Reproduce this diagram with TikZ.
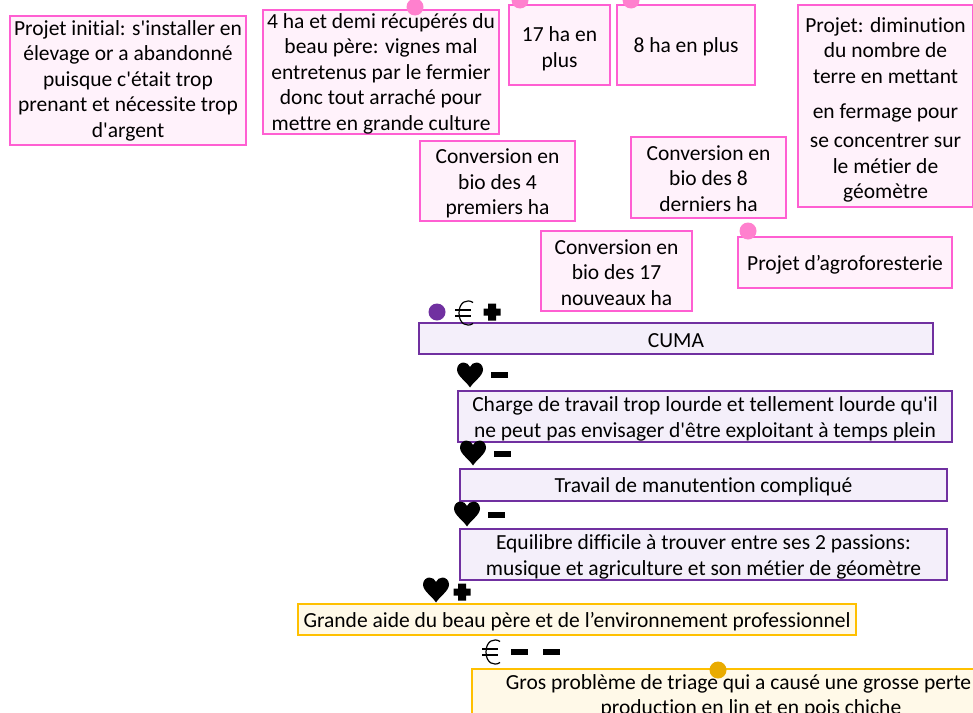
\documentclass[tikz,border=0pt]{standalone}
\usepackage{fontspec}
\newfontfamily\boxfont[Ligatures=NoCommon]{Carlito}
\newcommand{\topgap}[1]{\rule{0pt}{#1pt}}
\definecolor{pinkline}{HTML}{FF5FD2}
\definecolor{pinkfill}{HTML}{FFF2FB}
\definecolor{pinkdot}{HTML}{FF80CE}
\definecolor{purpleline}{HTML}{7030A0}
\definecolor{purplefill}{HTML}{F4EFFA}
\definecolor{yellowline}{HTML}{FFC000}
\definecolor{yellowfill}{HTML}{FFF9E8}
\definecolor{yellowdot}{HTML}{E9AB00}
\tikzset{
	textbox/.style={line width=2.8pt, align=center, inner sep=0pt, text=black, font=\boxfont\fontsize{21.5}{25.5}\selectfont},
	pinkbox/.style={textbox, draw=pinkline, fill=pinkfill},
	purplebox/.style={textbox, draw=purpleline, fill=purplefill},
	yellowbox/.style={textbox, draw=yellowline, fill=yellowfill},
	marker/.style={circle, inner sep=0pt, minimum size=17pt},
	heartsign/.pic={\fill (0,12.5) .. controls (-4,6) and (-13,1) .. (-13,-5.5) .. controls (-13,-10) and (-9.5,-12.5) .. (-6.5,-12.5) .. controls (-3.5,-12.5) and (-1,-10.5) .. (0,-8) .. controls (1,-10.5) and (3.5,-12.5) .. (6.5,-12.5) .. controls (9.5,-12.5) and (13,-10) .. (13,-5.5) .. controls (13,1) and (4,6) .. (0,12.5) -- cycle;},
	eurosign/.pic={\draw[line width=1.2pt] (9,-10.5) .. controls (3,-14.5) and (-5,-11) .. (-5,0) .. controls (-5,11) and (3,14.5) .. (9,10.5);
		\draw[line width=1.2pt] (-9,-3) -- (7,-3) (-9,3) -- (7,3);},
	plussign/.pic={\fill (-4,-8.5) rectangle (4,8.5) (-8.5,-3.5) rectangle (8.5,3.5);},
	minussign/.pic={\fill (-8.5,-3.2) rectangle (8.5,3.2);}
}
\begin{document}
\begin{tikzpicture}[x=1pt, y=-1pt]
	\clip (0,0) rectangle (973,712);
	\fill[white] (0,0) rectangle (973,712);

	%pink boxes
	\node (initial) at (128,80.5) [pinkbox, minimum width=236pt, minimum height=129pt]{Projet initial: s'installer en\\élevage or a abandonné\\puisque c'était trop\\prenant et nécessite trop\\d'argent};
	\node (beaupere) at (381,72) [pinkbox, minimum width=236pt, minimum height=124pt]{\topgap{18}4 ha et demi récupérés du\\beau père: vignes mal\\entretenus par le fermier\\donc tout arraché pour\\mettre en grande culture};
	\node (plusdixsept) at (559.5,45) [pinkbox, minimum width=101pt, minimum height=80pt]{\topgap{22}17 ha en\\plus};
	\node (plushuit) at (686,45) [pinkbox, minimum width=138pt, minimum height=80pt]{\topgap{19}8 ha en plus};
	\node (diminution) at (885.5,106) [pinkbox, minimum width=175pt, minimum height=202pt]{\topgap{23}Projet: diminution\\du nombre de\\terre en mettant\\[10pt]en fermage  pour\\[3.5pt]se concentrer sur\\le métier de\\géomètre};
	\node (bioquatre) at (497.5,181) [pinkbox, minimum width=155pt, minimum height=80pt]{\topgap{20}Conversion en\\bio des 4\\premiers ha};
	\node (biohuit) at (708.5,177.5) [pinkbox, minimum width=155pt, minimum height=81pt]{\topgap{17}Conversion en\\bio des 8\\derniers ha};
	\node (biodixsept) at (616.5,271) [pinkbox, minimum width=151pt, minimum height=80pt]{\topgap{18}Conversion en\\bio des 17\\nouveaux ha};
	\node (agroforesterie) at (845,262.5) [pinkbox, minimum width=214pt, minimum height=51pt]{\topgap{19}Projet d’agroforesterie};

	%purple boxes
	\node (cuma) at (676,338.5) [purplebox, minimum width=514pt, minimum height=31pt]{\topgap{19}CUMA};
	\node (charge) at (705,416.5) [purplebox, minimum width=494pt, minimum height=51pt]{\topgap{20}Charge de travail trop lourde et tellement lourde qu'il\\ne peut pas envisager d'être exploitant à temps plein};
	\node (manutention) at (703.5,485) [purplebox, minimum width=487pt, minimum height=32pt]{\topgap{19}Travail de manutention compliqué};
	\node (equilibre) at (703.5,554.5) [purplebox, minimum width=487pt, minimum height=51pt]{\topgap{20}Equilibre difficile à trouver entre ses 2 passions:\\musique et agriculture et son métier de géomètre};

	%yellow boxes
	\node (aide) at (577,619.5) [yellowbox, minimum width=558pt, minimum height=31pt]{\topgap{19}Grande aide du beau père et de l’environnement professionnel};
	\node (triage) at (738.5,694.5) [yellowbox, minimum width=533pt, minimum height=51pt]{\topgap{18}Gros problème de triage qui a causé une grosse perte\\\hspace*{25pt}production en lin et en pois chiche};

	%round markers
	\foreach \x/\y/\name in {415/7/a, 520/0/b, 631/0/c, 748/231/d}{
		\node (dot\name) at (\x,\y) [marker, fill=pinkdot]{};
	}
	\node (dote) at (437,312) [marker, fill=purpleline]{};
	\node (dotf) at (718,670) [marker, fill=yellowdot]{};

	%signs
	\foreach \x/\y in {470/375, 473/453, 467/514, 436/590}{
		\pic at (\x,\y) {heartsign};
	}
	\foreach \x/\y in {464/313, 491/652}{
		\pic at (\x,\y) {eurosign};
	}
	\foreach \x/\y in {492/312, 462/592}{
		\pic at (\x,\y) {plussign};
	}
	\foreach \x/\y in {499/375, 502/454, 496/515, 519/652, 551/652}{
		\pic at (\x,\y) {minussign};
	}
\end{tikzpicture}
\end{document}
